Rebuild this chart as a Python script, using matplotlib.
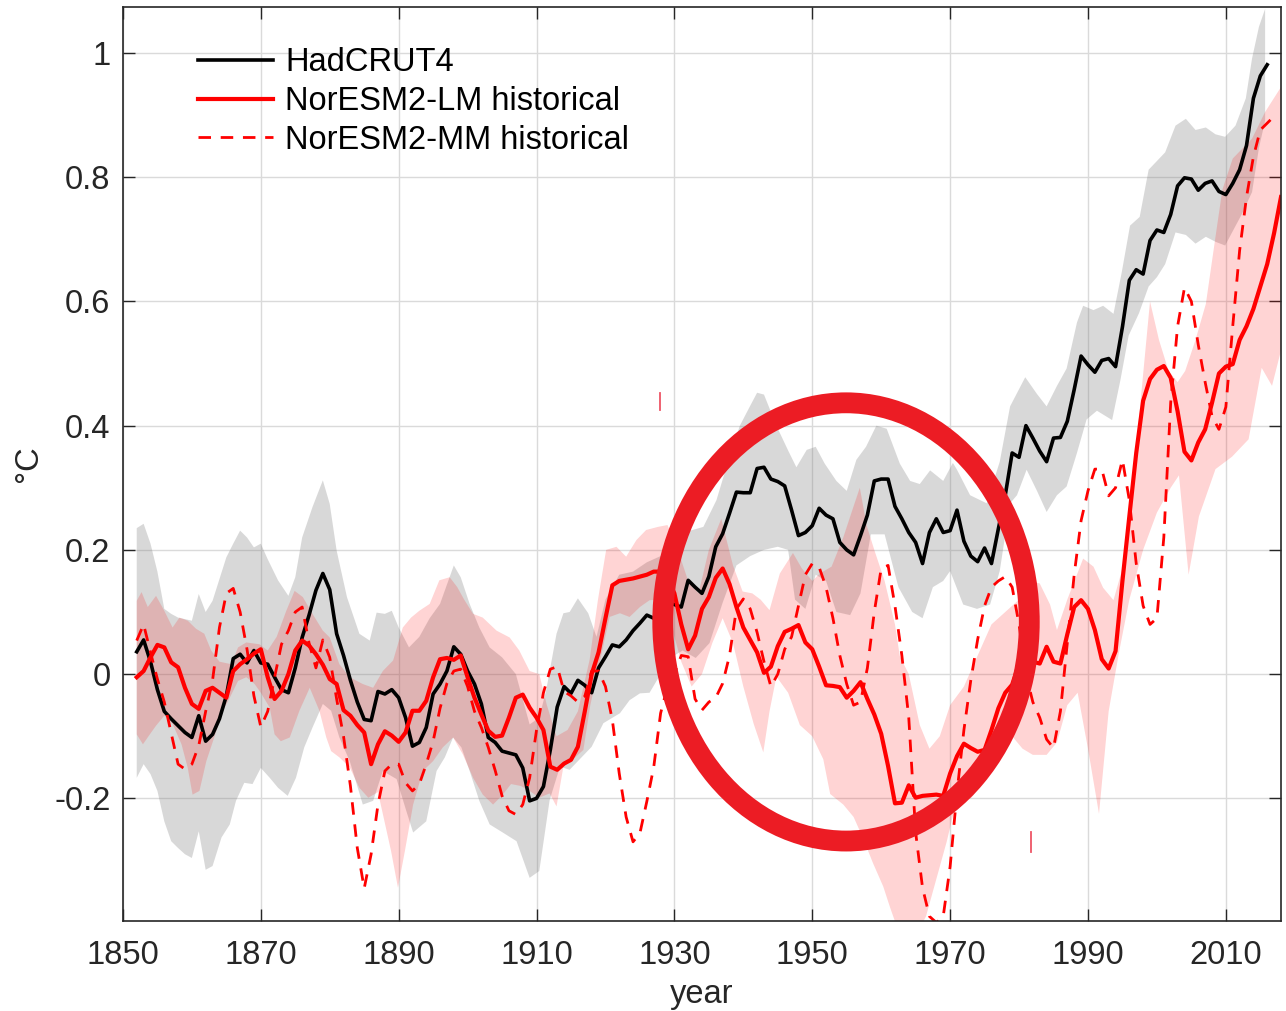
import numpy as np
import matplotlib
matplotlib.use('Agg')
import matplotlib.pyplot as plt
from matplotlib.patches import Ellipse

plt.rcParams['font.family'] = ['Liberation Sans', 'DejaVu Sans']
plt.rcParams['axes.unicode_minus'] = False

# HadCRUT4, annual, starting 1852
had_start = 1852
had = [0.036, 0.055, 0.020, -0.025, -0.060, -0.072, -0.083, -0.094, -0.102, -0.067,
       -0.108, -0.097, -0.072, -0.035, 0.025, 0.032, 0.018, 0.038, 0.018, 0.016,
       -0.005, -0.025, -0.030, 0.010, 0.059, 0.095, 0.135, 0.162, 0.136, 0.065,
       0.030, -0.010, -0.045, -0.073, -0.075, -0.028, -0.032, -0.025, -0.038, -0.070,
       -0.116, -0.110, -0.086, -0.032, -0.016, 0.005, 0.044, 0.032, 0.005, -0.016,
       -0.048, -0.102, -0.110, -0.124, -0.127, -0.130, -0.151, -0.204, -0.200, -0.181,
       -0.122, -0.053, -0.020, -0.031, -0.010, -0.018, -0.030, 0.010, 0.028, 0.047,
       0.044, 0.055, 0.070, 0.082, 0.095, 0.090, 0.100, 0.115, 0.112, 0.108,
       0.151, 0.140, 0.130, 0.157, 0.205, 0.226, 0.259, 0.293, 0.292, 0.292,
       0.331, 0.333, 0.314, 0.310, 0.303, 0.264, 0.223, 0.228, 0.239, 0.267,
       0.256, 0.250, 0.212, 0.200, 0.192, 0.223, 0.256, 0.311, 0.314, 0.314,
       0.270, 0.250, 0.228, 0.212, 0.178, 0.228, 0.250, 0.228, 0.231, 0.264,
       0.214, 0.190, 0.181, 0.203, 0.178, 0.234, 0.288, 0.356, 0.349, 0.400,
       0.380, 0.359, 0.342, 0.380, 0.381, 0.407, 0.458, 0.512, 0.498, 0.486,
       0.505, 0.508, 0.495, 0.559, 0.634, 0.651, 0.644, 0.698, 0.715, 0.711,
       0.740, 0.786, 0.799, 0.797, 0.779, 0.790, 0.794, 0.777, 0.772, 0.790,
       0.812, 0.851, 0.927, 0.963, 0.981]

# NorESM2-LM ensemble mean, starting 1852
lm_start = 1852
lm = [-0.005, 0.005, 0.027, 0.047, 0.043, 0.019, 0.011, -0.022, -0.048, -0.056,
      -0.027, -0.022, -0.030, -0.038, 0.005, 0.016, 0.024, 0.033, 0.040, -0.005,
      -0.040, -0.027, 0.000, 0.038, 0.054, 0.046, 0.032, 0.015, -0.008, -0.016,
      -0.058, -0.067, -0.082, -0.094, -0.145, -0.113, -0.092, -0.099, -0.109, -0.094,
      -0.059, -0.059, -0.043, -0.005, 0.024, 0.026, 0.023, 0.030, -0.005, -0.038,
      -0.065, -0.091, -0.101, -0.099, -0.070, -0.038, -0.033, -0.054, -0.070, -0.090,
      -0.149, -0.154, -0.144, -0.138, -0.117, -0.060, 0.000, 0.035, 0.090, 0.143,
      0.150, 0.152, 0.154, 0.157, 0.160, 0.165, 0.165, 0.155, 0.130, 0.080,
      0.040, 0.062, 0.105, 0.124, 0.155, 0.170, 0.145, 0.108, 0.075, 0.055,
      0.035, 0.002, 0.012, 0.045, 0.068, 0.073, 0.079, 0.051, 0.040, 0.012,
      -0.018, -0.019, -0.021, -0.038, -0.027, -0.013, -0.040, -0.065, -0.096, -0.148,
      -0.208, -0.207, -0.179, -0.199, -0.196, -0.195, -0.194, -0.196, -0.160, -0.132,
      -0.112, -0.119, -0.125, -0.122, -0.090, -0.055, -0.030, -0.017, 0.017, 0.025,
      0.020, 0.017, 0.044, 0.020, 0.017, 0.064, 0.108, 0.119, 0.105, 0.071,
      0.024, 0.009, 0.037, 0.150, 0.254, 0.356, 0.440, 0.475, 0.490, 0.496,
      0.477, 0.423, 0.358, 0.344, 0.373, 0.394, 0.437, 0.484, 0.495, 0.499,
      0.538, 0.560, 0.588, 0.624, 0.660, 0.710, 0.768]

# NorESM2-MM ensemble mean, starting 1852
mm_start = 1852
mm = [0.054, 0.080, 0.035, -0.008, -0.045, -0.095, -0.145, -0.153, -0.145, -0.115,
      -0.060, -0.010, 0.075, 0.130, 0.138, 0.100, 0.040, -0.035, -0.085, -0.060,
      -0.005, 0.048, 0.070, 0.100, 0.108, 0.050, 0.010, 0.055, 0.027, -0.040,
      -0.100, -0.180, -0.280, -0.345, -0.290, -0.210, -0.156, -0.145, -0.145, -0.175,
      -0.188, -0.177, -0.145, -0.108, -0.055, -0.015, 0.005, 0.008, -0.020, -0.060,
      -0.086, -0.118, -0.155, -0.196, -0.220, -0.226, -0.210, -0.167, -0.090, -0.030,
      0.008, 0.012, -0.028, -0.035, -0.045, -0.036, 0.005, 0.005, -0.020, -0.074,
      -0.160, -0.230, -0.270, -0.256, -0.205, -0.150, -0.063, -0.020, 0.000, 0.030,
      0.028, -0.040, -0.058, -0.045, -0.038, -0.015, 0.030, 0.105, 0.121, 0.105,
      0.067, 0.020, -0.020, 0.000, 0.040, 0.060, 0.110, 0.160, 0.178, 0.172,
      0.140, 0.090, 0.030, -0.016, -0.050, -0.045, 0.010, 0.100, 0.170, 0.175,
      0.110, 0.030, -0.070, -0.255, -0.344, -0.390, -0.400, -0.390, -0.310, -0.190,
      -0.090, -0.010, 0.056, 0.110, 0.140, 0.150, 0.157, 0.140, 0.080, 0.000,
      -0.045, -0.070, -0.105, -0.119, -0.060, 0.050, 0.160, 0.247, 0.295, 0.330,
      0.330, 0.287, 0.300, 0.345, 0.280, 0.178, 0.110, 0.080, 0.090, 0.220,
      0.437, 0.560, 0.622, 0.600, 0.530, 0.470, 0.415, 0.394, 0.430, 0.560,
      0.682, 0.768, 0.833, 0.876, 0.887, 0.898]

# HadCRUT4 uncertainty band
had_up_yr = [1852, 1853, 1854, 1855, 1856, 1857, 1858, 1860, 1861, 1862, 1863, 1865, 1866, 1867,
             1868, 1869, 1870, 1871, 1872.5, 1874, 1875, 1876, 1877.5, 1879, 1880, 1881, 1882.5,
             1884.3, 1885.8, 1886.8, 1888, 1889, 1890, 1891.5, 1893, 1894.5, 1896, 1898, 1899,
             1900.3, 1901.7, 1903.2, 1905, 1907, 1909, 1910.4, 1911.4, 1912.9, 1913.9, 1914.8,
             1916, 1917.5, 1918.7, 1920, 1922, 1924, 1926, 1928, 1930, 1932, 1934.2, 1936.1,
             1938, 1939.5, 1941, 1942, 1943, 1944.8, 1946.5, 1947.7, 1949.2, 1950.5, 1951.8,
             1953.5, 1955, 1956.4, 1957.8, 1959.3, 1960.8, 1962.7, 1964.2, 1965.6, 1967.1, 1969,
             1970.4, 1971, 1972.9, 1975.3, 1977.2, 1978.7, 1980.9, 1982.6, 1984, 1985.5, 1986.9,
             1988.4, 1989.3, 1990.8, 1992.2, 1993.7, 1994.9, 1996.1, 1997.5, 1998.8, 2001.2,
             2002.7, 2004.2, 2005.6, 2007.1, 2008.5, 2009.9, 2011.4, 2012.9, 2013.8, 2014.8, 2015.7]
had_up = [0.235, 0.242, 0.210, 0.165, 0.105, 0.097, 0.091, 0.086, 0.129, 0.100, 0.118, 0.188, 0.210, 0.231,
          0.220, 0.204, 0.210, 0.185, 0.151, 0.126, 0.156, 0.220, 0.269, 0.312, 0.274, 0.199, 0.124,
          0.065, 0.054, 0.099, 0.097, 0.102, 0.075, 0.043, 0.060, 0.090, 0.113, 0.175, 0.156,
          0.113, 0.075, 0.043, 0.027, 0.000, -0.081, -0.070, -0.026, 0.065, 0.098, 0.100,
          0.122, 0.098, 0.060, 0.120, 0.160, 0.165, 0.180, 0.190, 0.210, 0.230, 0.237, 0.280,
          0.350, 0.400, 0.432, 0.453, 0.450, 0.400, 0.360, 0.333, 0.361, 0.366, 0.339,
          0.311, 0.295, 0.345, 0.366, 0.400, 0.395, 0.339, 0.311, 0.306, 0.328, 0.311,
          0.340, 0.329, 0.288, 0.275, 0.342, 0.431, 0.478, 0.451, 0.431, 0.464, 0.492,
          0.566, 0.593, 0.586, 0.593, 0.580, 0.647, 0.722, 0.736, 0.812, 0.840,
          0.883, 0.894, 0.876, 0.880, 0.869, 0.865, 0.883, 0.927, 0.991, 1.042, 1.071]
had_lo_yr = [1852, 1853, 1854, 1855, 1856, 1857, 1858, 1859, 1860, 1861, 1862, 1863, 1864.3, 1865.5,
             1866.4, 1867.6, 1868.8, 1870, 1871.3, 1872.5, 1873.9, 1875.1, 1876.3, 1877.5, 1879,
             1880.2, 1881.4, 1882.9, 1884.8, 1886.3, 1887.7, 1889.7, 1891.1, 1892.1, 1894, 1895.5,
             1896.7, 1897.9, 1899.1, 1900.3, 1901.7, 1903.2, 1905.1, 1907.1, 1909, 1910.4, 1911.9,
             1913.4, 1914.8, 1918, 1919.7, 1922.1, 1923.5, 1925, 1926.4, 1928, 1930, 1931.2, 1933.1,
             1935.1, 1937, 1939, 1941, 1943, 1945, 1946.5, 1947.5, 1949, 1950.5, 1952, 1953.5,
             1955.5, 1957, 1958.5, 1960.5, 1962.5, 1964.5, 1966, 1967.5, 1969, 1970, 1971.9, 1973.9,
             1975.8, 1977.2, 1978.7, 1979.7, 1981.1, 1982.6, 1984, 1985.5, 1986.9, 1988.4, 1989.8,
             1991.3, 1993.5, 1994.7, 1995.9, 1997.4, 1998.8, 2000, 2001.2, 2002.7, 2004.2, 2005.6,
             2007.1, 2008.5, 2009.9, 2010.9, 2012.3, 2013.8, 2014.8, 2015.7]
had_lo = [-0.167, -0.145, -0.161, -0.188, -0.237, -0.269, -0.280, -0.290, -0.296, -0.253, -0.315, -0.309, -0.263, -0.242,
          -0.204, -0.175, -0.177, -0.151, -0.167, -0.183, -0.196, -0.167, -0.118, -0.086, -0.048,
          -0.059, -0.102, -0.140, -0.210, -0.204, -0.156, -0.169, -0.220, -0.255, -0.237, -0.156,
          -0.134, -0.102, -0.118, -0.156, -0.204, -0.242, -0.255, -0.269, -0.328, -0.317, -0.203,
          -0.149, -0.154, -0.117, -0.079, -0.063, -0.042, -0.031, -0.030, 0.000, 0.030, 0.038, 0.026,
          0.050, 0.115, 0.175, 0.190, 0.200, 0.205, 0.200, 0.120, 0.105, 0.160, 0.150, 0.100,
          0.095, 0.130, 0.225, 0.225, 0.140, 0.100, 0.090, 0.140, 0.150, 0.166, 0.112, 0.105,
          0.112, 0.166, 0.275, 0.288, 0.329, 0.295, 0.261, 0.288, 0.302, 0.356, 0.410,
          0.424, 0.409, 0.473, 0.545, 0.581, 0.624, 0.639, 0.660, 0.711, 0.707, 0.693,
          0.704, 0.696, 0.690, 0.711, 0.740, 0.776, 0.847, 0.891]

# NorESM2-LM ensemble spread
lm_up_yr = [1852, 1852.7, 1853.6, 1854.8, 1856, 1857.2, 1858.2, 1859.4, 1860.6, 1861.8, 1862.8, 1864,
            1865.7, 1866.7, 1867.9, 1869.8, 1871, 1872.3, 1873.7, 1874.9, 1876.1, 1877.5, 1879, 1880,
            1881.4, 1882.9, 1884.8, 1886.3, 1887.7, 1889.2, 1890.6, 1891.8, 1893, 1894.5, 1895.9,
            1897.4, 1898.5, 1899.5, 1900.8, 1902.2, 1904.2, 1906.1, 1907.5, 1909, 1910.4, 1911.5,
            1912.9, 1914.5, 1916, 1917.7, 1918.9, 1920.1, 1921.6, 1923, 1924.5, 1925.9, 1927.6, 1929,
            1930.5, 1932, 1933.5, 1935, 1936.8, 1938.5, 1939.9, 1941.3, 1942.5, 1943.8, 1945.3,
            1947.2, 1948.5, 1950, 1951.1, 1952.8, 1954.5, 1955.9, 1956.9, 1957.9, 1959, 1960.5, 1962,
            1962.7, 1964, 1965.6, 1967, 1968.5, 1970, 1972, 1974, 1976, 1978, 1980, 1981.4, 1983,
            1984.5, 1985.5, 1987, 1989.3, 1990.8, 1992.2, 1993.7, 1995, 1996.1, 1997.5, 1999, 2000.3,
            2001.7, 2003, 2004.1, 2005.6, 2007.1, 2008.5, 2009.5, 2011, 2013.8, 2015.7, 2018]
lm_up = [0.118, 0.132, 0.108, 0.126, 0.102, 0.075, 0.091, 0.086, 0.073, 0.065, 0.038, 0.020,
         0.016, 0.043, 0.051, 0.048, 0.038, 0.060, 0.102, 0.134, 0.124, 0.097, 0.070, 0.059,
         0.016, -0.005, -0.016, -0.022, 0.005, 0.022, 0.075, 0.091, 0.102, 0.113, 0.151,
         0.156, 0.140, 0.120, 0.097, 0.091, 0.070, 0.059, 0.038, 0.005, 0.000, -0.050,
         -0.100, -0.090, -0.060, 0.023, 0.119, 0.200, 0.205, 0.189, 0.216, 0.232, 0.237, 0.240,
         0.200, 0.150, 0.130, 0.200, 0.250, 0.175, 0.133, 0.130, 0.120, 0.103, 0.162,
         0.195, 0.170, 0.150, 0.162, 0.173, 0.220, 0.267, 0.300, 0.239, 0.200, 0.150, 0.080,
         0.029, 0.000, -0.082, -0.120, -0.100, -0.050, -0.020, 0.030, 0.080, 0.100, 0.120, 0.150, 0.146,
         0.112, 0.071, 0.120, 0.186, 0.173, 0.139, 0.119, 0.170, 0.254, 0.424, 0.600, 0.538,
         0.488, 0.470, 0.488, 0.538, 0.596, 0.704, 0.780, 0.830, 0.862, 0.905, 0.945]
lm_lo_yr = [1852, 1852.9, 1853.9, 1854.8, 1856, 1857.2, 1858.5, 1859.4, 1860.1, 1861.1, 1862.1, 1863.3,
            1864.5, 1865.5, 1866.7, 1867.9, 1869.1, 1870, 1871.3, 1872, 1872.9, 1874.2, 1875.6, 1877.1,
            1878.5, 1879.5, 1880.2, 1881.4, 1882.9, 1884.3, 1885.6, 1887, 1888.9, 1889.9, 1890.9,
            1892.1, 1893.5, 1895, 1896.4, 1897.9, 1899.3, 1900.8, 1902.2, 1903.7, 1905.1, 1906.3,
            1907.7, 1909, 1910.4, 1911.9, 1912.9, 1913.9, 1915.5, 1916.8, 1917.8, 1918.5, 1920.6,
            1922.1, 1923.5, 1925, 1926.4, 1928, 1929.5, 1931, 1932.5, 1934, 1935.5, 1937, 1938.5,
            1940, 1941.5, 1942.9, 1943.8, 1944.8, 1946.5, 1948.2, 1950, 1951.6, 1952.6, 1954.5, 1956,
            1957.4, 1958.8, 1960.3, 1961.3, 1962.7, 1965.1, 1966.5, 1968, 1969.5, 1971, 1973, 1974.5,
            1976, 1977.5, 1979, 1980.5, 1982, 1984, 1985.5, 1987, 1988.5, 1990, 1991.6, 1993, 1994.5,
            1996, 1998, 2000, 2002, 2003.2, 2004.6, 2006.1, 2008.5, 2010.9, 2013.3, 2015.2, 2016.7, 2018]
lm_lo = [-0.097, -0.113, -0.097, -0.083, -0.067, -0.080, -0.113, -0.151, -0.194, -0.188, -0.140, -0.100,
         -0.059, -0.038, -0.011, -0.005, -0.016, -0.030, -0.054, -0.097, -0.108, -0.102, -0.059, -0.022,
         -0.059, -0.102, -0.124, -0.134, -0.150, -0.183, -0.199, -0.190, -0.285, -0.344, -0.285,
         -0.210, -0.156, -0.140, -0.118, -0.102, -0.129, -0.167, -0.194, -0.210, -0.194, -0.177,
         -0.180, -0.188, -0.199, -0.192, -0.213, -0.149, -0.135, -0.122, -0.050, -0.015, 0.092,
         0.098, 0.092, 0.108, 0.119, 0.120, 0.080, 0.020, -0.020, 0.000, 0.050, 0.090, 0.050,
         -0.020, -0.080, -0.126, -0.060, -0.004, -0.030, -0.082, -0.100, -0.137, -0.193, -0.210, -0.230,
         -0.265, -0.304, -0.342, -0.376, -0.420, -0.420, -0.390, -0.330, -0.270, -0.200, -0.200, -0.180,
         -0.150, -0.120, -0.100, -0.120, -0.130, -0.130, -0.110, -0.050, -0.030, -0.120, -0.225, -0.060, 0.035,
         0.120, 0.200, 0.260, 0.300, 0.320, 0.160, 0.254, 0.330, 0.350, 0.378, 0.493, 0.464, 0.521]

xticks = [1850, 1870, 1890, 1910, 1930, 1950, 1970, 1990, 2010]
yticks = [-0.2, 0, 0.2, 0.4, 0.6, 0.8, 1]
ytick_labels = ['-0.2', '0', '0.2', '0.4', '0.6', '0.8', '1']

had_x = np.arange(had_start, had_start + len(had))
lm_x = np.arange(lm_start, lm_start + len(lm))
mm_x = np.arange(mm_start, mm_start + len(mm))

fs = 23.5

fig = plt.figure(figsize=(12.86, 10.11), dpi=100)
ax = fig.add_axes([0.0956, 0.0893, 0.9005, 0.9038])

ax.fill(np.r_[had_up_yr, had_lo_yr[::-1]], np.r_[had_up, had_lo[::-1]],
        color=(0.5, 0.5, 0.5), alpha=0.3, lw=0)
ax.fill(np.r_[lm_up_yr, lm_lo_yr[::-1]], np.r_[lm_up, lm_lo[::-1]],
        color=(1, 0, 0), alpha=0.17, lw=0)

ax.plot(had_x, had, color='k', lw=2.6, label='HadCRUT4')
ax.plot(lm_x, lm, color='r', lw=3.0, label='NorESM2-LM historical')
ax.plot(mm_x, mm, color='r', lw=2.0, ls=(0, (4.5, 3.5)), label='NorESM2-MM historical')

ax.set_xlim(1850, 2018)
ax.set_ylim(-0.397, 1.074)
ax.set_xticks(xticks)
ax.set_yticks(yticks)
ax.set_yticklabels(ytick_labels)
ax.grid(True, color='#dadada', lw=1.0)
ax.set_axisbelow(True)
ax.tick_params(direction='in', length=8.5, width=1.0, color='#262626',
               top=True, right=True, labelsize=fs, labelcolor='#262626')
ax.tick_params(axis='x', pad=14)
ax.tick_params(axis='y', pad=9)
for s in ax.spines.values():
    s.set_color('#262626')
    s.set_linewidth(1.2)

ax.set_xlabel('year', fontsize=fs, color='#262626', labelpad=6)
ax.set_ylabel('°C', fontsize=fs, color='#262626', labelpad=7)

ax.legend(loc='upper left', bbox_to_anchor=(0.0648, 0.956), frameon=False,
          fontsize=fs, borderpad=0, borderaxespad=0, handlelength=2.3,
          handletextpad=0.37, labelspacing=0.24)

# red circle annotation
ax.add_patch(Ellipse((0.6244, 0.327), 0.3165, 0.4796, transform=ax.transAxes,
                     fill=False, ec='#ec1c24', lw=15, zorder=10, clip_on=False))
ax.plot([0.4637, 0.4637], [0.5775, 0.5589], transform=ax.transAxes, color='#ee5566', lw=1.3)
ax.plot([0.7841, 0.7841], [0.0971, 0.0752], transform=ax.transAxes, color='#ee5566', lw=1.3)

fig.savefig('out.png', dpi=100)
